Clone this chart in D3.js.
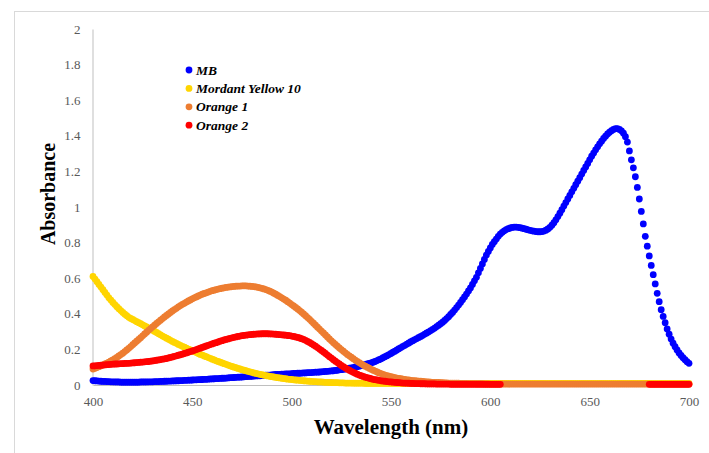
<!DOCTYPE html>
<html>
<head>
<meta charset="utf-8">
<script src="https://cdn.jsdelivr.net/npm/d3@7"></script>
<style>
  html, body { margin: 0; padding: 0; background: #fff; }
  svg { display: block; }
</style>
</head>
<body>
<svg id="chart" width="709" height="453"></svg>
<script>
// Absorption spectra, sampled every 1 nm from 400 to 700 nm
const wavelengths = d3.range(400, 701);

const mbValues = [
  0.025,0.024,0.023,0.022,0.021,0.020,0.020,0.019,0.019,0.018,
  0.018,0.017,0.017,0.017,0.016,0.016,0.016,0.016,0.016,0.016,
  0.016,0.016,0.016,0.016,0.017,0.017,0.017,0.017,0.018,0.018,
  0.018,0.019,0.019,0.019,0.020,0.020,0.021,0.021,0.022,0.022,
  0.023,0.023,0.024,0.024,0.025,0.025,0.026,0.026,0.027,0.027,
  0.028,0.029,0.029,0.030,0.030,0.031,0.032,0.032,0.033,0.034,
  0.034,0.035,0.036,0.036,0.037,0.038,0.038,0.039,0.040,0.041,
  0.041,0.042,0.043,0.044,0.044,0.045,0.046,0.047,0.048,0.048,
  0.049,0.050,0.051,0.052,0.052,0.053,0.054,0.055,0.056,0.056,
  0.057,0.058,0.059,0.059,0.060,0.061,0.061,0.062,0.063,0.063,
  0.064,0.065,0.065,0.066,0.066,0.067,0.068,0.068,0.069,0.070,
  0.070,0.071,0.072,0.072,0.073,0.074,0.075,0.076,0.077,0.078,
  0.079,0.080,0.082,0.083,0.085,0.086,0.088,0.090,0.092,0.094,
  0.096,0.098,0.101,0.103,0.106,0.109,0.112,0.115,0.118,0.121,
  0.124,0.128,0.132,0.137,0.142,0.147,0.153,0.159,0.165,0.171,
  0.177,0.184,0.190,0.197,0.204,0.210,0.217,0.223,0.230,0.236,
  0.243,0.249,0.255,0.261,0.267,0.273,0.279,0.286,0.292,0.299,
  0.306,0.313,0.320,0.328,0.336,0.344,0.353,0.363,0.373,0.384,
  0.396,0.408,0.421,0.435,0.449,0.464,0.479,0.495,0.511,0.528,
  0.545,0.565,0.585,0.605,0.630,0.655,0.680,0.705,0.730,0.750,
  0.770,0.790,0.805,0.820,0.835,0.848,0.858,0.866,0.873,0.878,
  0.882,0.885,0.887,0.887,0.886,0.884,0.881,0.878,0.875,0.872,
  0.869,0.866,0.864,0.862,0.861,0.861,0.862,0.865,0.870,0.877,
  0.886,0.898,0.912,0.928,0.946,0.965,0.985,1.005,1.025,1.045,
  1.065,1.085,1.105,1.125,1.145,1.165,1.185,1.205,1.225,1.245,
  1.265,1.285,1.303,1.321,1.338,1.355,1.370,1.385,1.398,1.410,
  1.420,1.429,1.436,1.440,1.440,1.436,1.428,1.415,1.395,1.365,
  1.315,1.265,1.220,1.170,1.110,1.045,0.975,0.905,0.835,0.780,
  0.725,0.672,0.620,0.568,0.515,0.468,0.423,0.385,0.350,0.315,
  0.285,0.258,0.235,0.215,0.197,0.180,0.166,0.153,0.142,0.131,
  0.122
];

const yellowValues = [
  0.610,0.595,0.580,0.565,0.550,0.535,0.520,0.505,0.490,0.477,
  0.464,0.452,0.440,0.429,0.418,0.408,0.398,0.389,0.380,0.374,
  0.368,0.362,0.356,0.350,0.344,0.338,0.332,0.326,0.320,0.314,
  0.308,0.301,0.295,0.288,0.282,0.275,0.269,0.263,0.257,0.251,
  0.245,0.239,0.234,0.228,0.223,0.217,0.212,0.207,0.202,0.197,
  0.192,0.187,0.182,0.177,0.172,0.168,0.163,0.159,0.154,0.150,
  0.145,0.141,0.136,0.132,0.128,0.124,0.120,0.116,0.112,0.108,
  0.104,0.100,0.097,0.093,0.090,0.086,0.083,0.080,0.077,0.074,
  0.071,0.068,0.065,0.063,0.060,0.058,0.055,0.053,0.051,0.049,
  0.047,0.045,0.043,0.041,0.040,0.038,0.036,0.035,0.033,0.032,
  0.031,0.029,0.028,0.027,0.026,0.025,0.024,0.023,0.022,0.021,
  0.020,0.019,0.019,0.018,0.017,0.017,0.016,0.015,0.015,0.014,
  0.014,0.013,0.013,0.013,0.012,0.012,0.012,0.011,0.011,0.011,
  0.011,0.010,0.010,0.010,0.010,0.010,0.010,0.009,0.009,0.009,
  0.009,0.009,0.009,0.009,0.009,0.009,0.009,0.009,0.009,0.009,
  0.009,0.009,0.009,0.009,0.009,0.009,0.009,0.009,0.009,0.009,
  0.009,0.009,0.009,0.009,0.009,0.009,0.009,0.009,0.009,0.009,
  0.009,0.009,0.009,0.009,0.009,0.009,0.009,0.009,0.009,0.009,
  0.009,0.009,0.009,0.009,0.009,0.009,0.009,0.009,0.009,0.009,
  0.009,0.009,0.009,0.009,0.009,0.009,0.009,0.009,0.009,0.009,
  0.009,0.009,0.009,0.009,0.009,0.009,0.009,0.009,0.009,0.009,
  0.009,0.009,0.009,0.009,0.009,0.009,0.009,0.009,0.009,0.009,
  0.009,0.009,0.009,0.009,0.009,0.009,0.009,0.009,0.009,0.009,
  0.009,0.009,0.009,0.009,0.009,0.009,0.009,0.009,0.009,0.009,
  0.009,0.009,0.009,0.009,0.009,0.009,0.009,0.009,0.009,0.009,
  0.009,0.009,0.009,0.009,0.009,0.009,0.009,0.009,0.009,0.009,
  0.009,0.009,0.009,0.009,0.009,0.009,0.009,0.009,0.009,0.009,
  0.009,0.009,0.009,0.009,0.009,0.009,0.009,0.009,0.009,0.009,
  0.009,0.009,0.009,0.009,0.009,0.009,0.009,0.009,0.009,0.009,
  0.009,0.009,0.009,0.009,0.009,0.009,0.009,0.009,0.009,0.009,
  0.009
];

const orange1Values = [
  0.090,0.094,0.098,0.103,0.108,0.113,0.118,0.123,0.129,0.135,
  0.141,0.148,0.155,0.163,0.171,0.179,0.188,0.197,0.206,0.216,
  0.226,0.236,0.246,0.256,0.266,0.276,0.287,0.297,0.307,0.317,
  0.327,0.336,0.346,0.355,0.364,0.373,0.382,0.391,0.399,0.408,
  0.416,0.424,0.431,0.439,0.446,0.453,0.459,0.466,0.472,0.478,
  0.484,0.490,0.495,0.500,0.505,0.510,0.514,0.518,0.522,0.526,
  0.530,0.533,0.536,0.539,0.541,0.544,0.546,0.548,0.550,0.551,
  0.553,0.554,0.555,0.556,0.556,0.557,0.557,0.557,0.556,0.555,
  0.554,0.553,0.551,0.549,0.546,0.543,0.540,0.536,0.532,0.527,
  0.522,0.516,0.510,0.503,0.497,0.490,0.483,0.476,0.468,0.460,
  0.452,0.444,0.436,0.427,0.418,0.409,0.399,0.389,0.379,0.369,
  0.358,0.347,0.336,0.325,0.314,0.303,0.292,0.281,0.270,0.259,
  0.248,0.238,0.228,0.218,0.208,0.199,0.190,0.181,0.172,0.164,
  0.156,0.148,0.140,0.133,0.126,0.119,0.112,0.106,0.100,0.094,
  0.088,0.083,0.078,0.073,0.068,0.064,0.060,0.056,0.053,0.050,
  0.047,0.044,0.041,0.039,0.037,0.035,0.033,0.031,0.029,0.028,
  0.026,0.025,0.024,0.023,0.022,0.021,0.020,0.019,0.018,0.017,
  0.016,0.015,0.015,0.014,0.014,0.013,0.013,0.012,0.012,0.011,
  0.011,0.011,0.010,0.010,0.010,0.009,0.009,0.009,0.009,0.008,
  0.008,0.008,0.008,0.007,0.007,0.007,0.007,0.006,0.006,0.006,
  0.005,0.005,0.005,0.005,0.005,0.005,0.005,0.005,0.005,0.005,
  0.005,0.005,0.005,0.005,0.005,0.005,0.005,0.005,0.005,0.005,
  0.005,0.005,0.005,0.005,0.005,0.005,0.005,0.005,0.005,0.005,
  0.005,0.005,0.005,0.005,0.005,0.005,0.005,0.005,0.005,0.005,
  0.005,0.005,0.005,0.005,0.005,0.005,0.005,0.005,0.005,0.005,
  0.005,0.005,0.005,0.005,0.005,0.005,0.005,0.005,0.005,0.005,
  0.005,0.005,0.005,0.005,0.005,0.005,0.005,0.005,0.005,0.005,
  0.005,0.005,0.005,0.005,0.005,0.005,0.005,0.005,0.005,0.005,
  0.005,0.005,0.005,0.005,0.005,0.005,0.005,0.005,0.005,0.005,
  0.005,0.005,0.005,0.005,0.005,0.005,0.005,0.005,0.005,0.005,
  0.005
];

// Orange 2 falls below the axis minimum between 606 and 679 nm (not plotted)
const orange2Values = [
  0.107,0.108,0.109,0.110,0.111,0.112,0.113,0.114,0.115,0.116,
  0.117,0.118,0.118,0.119,0.120,0.120,0.121,0.122,0.122,0.123,
  0.124,0.125,0.126,0.127,0.128,0.129,0.130,0.131,0.132,0.134,
  0.135,0.137,0.139,0.141,0.143,0.145,0.147,0.149,0.152,0.155,
  0.158,0.161,0.164,0.167,0.170,0.173,0.177,0.180,0.184,0.188,
  0.191,0.195,0.199,0.203,0.207,0.211,0.215,0.219,0.223,0.227,
  0.231,0.235,0.238,0.242,0.246,0.249,0.253,0.256,0.259,0.262,
  0.265,0.268,0.270,0.273,0.275,0.277,0.279,0.280,0.282,0.283,
  0.284,0.285,0.286,0.287,0.287,0.288,0.288,0.288,0.288,0.287,
  0.287,0.286,0.285,0.284,0.283,0.282,0.281,0.280,0.278,0.277,
  0.275,0.273,0.270,0.267,0.264,0.260,0.256,0.251,0.245,0.239,
  0.232,0.225,0.218,0.210,0.202,0.194,0.186,0.177,0.168,0.159,
  0.151,0.142,0.134,0.126,0.118,0.110,0.103,0.096,0.089,0.083,
  0.077,0.071,0.066,0.061,0.056,0.052,0.048,0.044,0.041,0.038,
  0.035,0.032,0.030,0.028,0.026,0.024,0.022,0.021,0.019,0.018,
  0.017,0.016,0.015,0.014,0.013,0.012,0.011,0.011,0.010,0.010,
  0.009,0.009,0.008,0.008,0.008,0.007,0.007,0.007,0.006,0.006,
  0.006,0.006,0.006,0.005,0.005,0.005,0.005,0.005,0.005,0.005,
  0.004,0.004,0.004,0.004,0.004,0.004,0.004,0.004,0.004,0.004,
  0.004,0.004,0.004,0.004,0.004,0.004,0.004,0.004,0.004,0.004,
  0.004,0.004,0.004,0.004,0.004,0.004,null,null,null,null,
  null,null,null,null,null,null,null,null,null,null,
  null,null,null,null,null,null,null,null,null,null,
  null,null,null,null,null,null,null,null,null,null,
  null,null,null,null,null,null,null,null,null,null,
  null,null,null,null,null,null,null,null,null,null,
  null,null,null,null,null,null,null,null,null,null,
  null,null,null,null,null,null,null,null,null,null,
  0.004,0.004,0.004,0.004,0.004,0.004,0.004,0.004,0.004,0.004,
  0.004,0.004,0.004,0.004,0.004,0.004,0.004,0.004,0.004,0.004,
  0.004
];

const seriesNames = ["MB", "Mordant Yellow 10", "Orange 1", "Orange 2"];
const seriesColors = ["#0000FF", "#FFD500", "#ED7D31", "#FF0000"];
const seriesValues = [mbValues, yellowValues, orange1Values, orange2Values];

const xTicks = [400, 450, 500, 550, 600, 650, 700];
const yTicks = [0, 0.2, 0.4, 0.6, 0.8, 1, 1.2, 1.4, 1.6, 1.8, 2];
const yTickLabels = ["0", "0.2", "0.4", "0.6", "0.8", "1", "1.2", "1.4", "1.6", "1.8", "2"];

const svg = d3.select("#chart");
const serif = "'Liberation Serif', 'Times New Roman', serif";

// outer chart-area border
svg.append("rect")
  .attr("x", 14.5).attr("y", 11.5)
  .attr("width", 720).attr("height", 460)
  .attr("fill", "none").attr("stroke", "#D9D9D9").attr("stroke-width", 1);

const x = d3.scaleLinear().domain([400, 700]).range([93, 689]);
const y = d3.scaleLinear().domain([0, 2]).range([385, 29]);

// axes
const xAxis = svg.append("g")
  .attr("transform", `translate(0,${y(0)})`)
  .call(d3.axisBottom(x).tickValues(xTicks).tickSize(0).tickPadding(12));
const yAxis = svg.append("g")
  .attr("transform", `translate(${x(400) - 0.5},0)`)
  .call(d3.axisLeft(y).tickValues(yTicks).tickSize(0).tickPadding(12)
    .tickFormat((d, i) => yTickLabels[i]));

[xAxis, yAxis].forEach(g => {
  g.select(".domain").attr("stroke", "#BFBFBF").attr("stroke-width", 1);
  g.selectAll("text")
    .attr("font-family", serif).attr("font-size", 13).attr("fill", "#595959");
});

// markers for each series, drawn in series order
const r = 3.4;
seriesValues.forEach((vals, si) => {
  const pts = wavelengths.map((w, i) => ({ w, v: vals[i] }))
    .filter(d => d.v !== null && d.v >= 0);
  svg.append("g")
    .selectAll("circle")
    .data(pts)
    .join("circle")
    .attr("cx", d => x(d.w))
    .attr("cy", d => y(d.v))
    .attr("r", r)
    .attr("fill", seriesColors[si]);
});

// axis titles
svg.append("text")
  .attr("x", 391).attr("y", 434)
  .attr("text-anchor", "middle")
  .attr("font-family", serif).attr("font-weight", "bold").attr("font-size", 21)
  .attr("fill", "#000")
  .text("Wavelength (nm)");

svg.append("text")
  .attr("transform", "translate(55,194) rotate(-90)")
  .attr("text-anchor", "middle")
  .attr("font-family", serif).attr("font-weight", "bold").attr("font-size", 20)
  .attr("fill", "#000")
  .text("Absorbance");

// legend
const legend = svg.append("g");
seriesNames.forEach((name, i) => {
  const cy = 70 + i * 18.4;
  legend.append("circle")
    .attr("cx", 189).attr("cy", cy).attr("r", r)
    .attr("fill", seriesColors[i]);
  legend.append("text")
    .attr("x", 196).attr("y", cy + 4.5)
    .attr("font-family", serif).attr("font-weight", "bold").attr("font-style", "italic")
    .attr("font-size", 13.5).attr("fill", "#000")
    .text(name);
});
</script>
</body>
</html>
